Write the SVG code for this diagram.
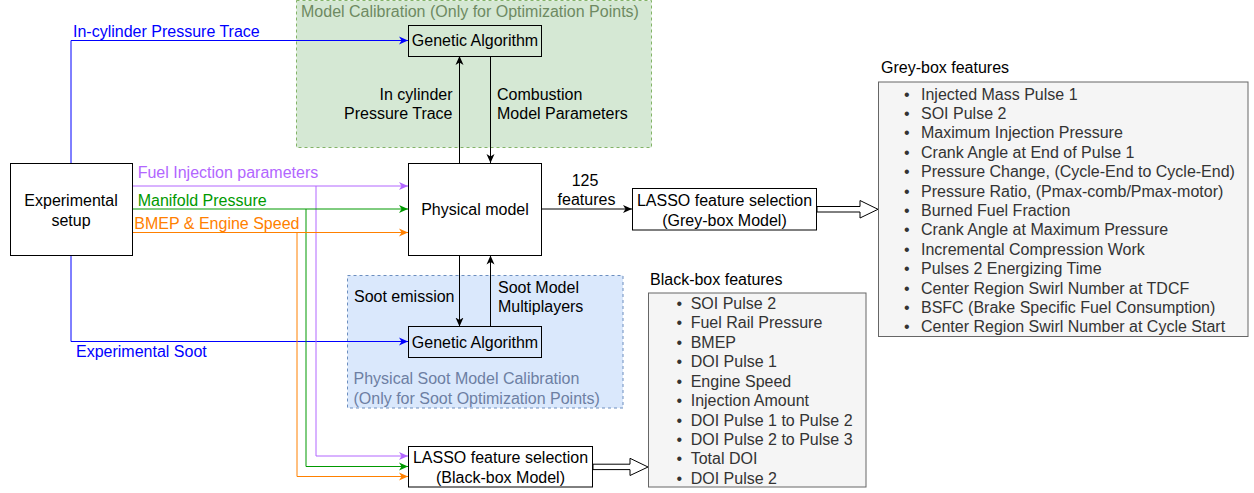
<svg xmlns="http://www.w3.org/2000/svg" width="1254" height="493" viewBox="0 0 1254 493">
<defs>
<style>
text{font-family:"Liberation Sans",Arial,sans-serif;font-size:16px;fill:#000}
.c{text-anchor:middle}
.e{text-anchor:end}
.box{fill:#fff;stroke:#000;stroke-width:1}
.gbox{fill:none;stroke:#000;stroke-width:1}
.list{fill:#f5f5f5;stroke:#666;stroke-width:1}
.li{fill:#333}
.ln{fill:none;stroke-width:1}
.k{stroke:#000}.b{stroke:#0000ff}.p{stroke:#b266ff}.g{stroke:#009900}.o{stroke:#ff8000}
.hollow{fill:#fff;stroke:#000;stroke-width:1}
</style>
<marker id="ak" markerUnits="userSpaceOnUse" markerWidth="10" markerHeight="10" refX="9" refY="4.5" orient="auto"><path d="M0,0.5 L9,4.5 L0,8.5 L2.5,4.5 Z" fill="#000"/></marker>
<marker id="ab" markerUnits="userSpaceOnUse" markerWidth="10" markerHeight="10" refX="9" refY="4.5" orient="auto"><path d="M0,0.5 L9,4.5 L0,8.5 L2.5,4.5 Z" fill="#0000ff"/></marker>
<marker id="ap" markerUnits="userSpaceOnUse" markerWidth="10" markerHeight="10" refX="9" refY="4.5" orient="auto"><path d="M0,0.5 L9,4.5 L0,8.5 L2.5,4.5 Z" fill="#b266ff"/></marker>
<marker id="ag" markerUnits="userSpaceOnUse" markerWidth="10" markerHeight="10" refX="9" refY="4.5" orient="auto"><path d="M0,0.5 L9,4.5 L0,8.5 L2.5,4.5 Z" fill="#009900"/></marker>
<marker id="ao" markerUnits="userSpaceOnUse" markerWidth="10" markerHeight="10" refX="9" refY="4.5" orient="auto"><path d="M0,0.5 L9,4.5 L0,8.5 L2.5,4.5 Z" fill="#ff8000"/></marker>
</defs>
<rect width="1254" height="493" fill="#fff"/>

<g id="model-calibration-region">
<rect x="296.5" y="0.5" width="355" height="147" fill="#d5e8d4" stroke="#82b366" stroke-dasharray="3,3"/>
<text x="301" y="16.5" style="fill:#6e8a62">Model Calibration (Only for Optimization Points)</text>
</g>

<g id="soot-calibration-region">
<rect x="347.5" y="275.5" width="275.5" height="132.5" fill="#dae8fc" stroke="#6c8ebf" stroke-dasharray="3,3"/>
<text x="353.5" y="383.6" style="fill:#6d7fa3">Physical Soot Model Calibration</text>
<text x="353.5" y="403.6" style="fill:#6d7fa3">(Only for Soot Optimization Points)</text>
</g>

<g id="connectors">
<path class="ln b" d="M71,163 V40.5 H408" marker-end="url(#ab)"/>
<path class="ln b" d="M71,255.5 V341.5 H408" marker-end="url(#ab)"/>
<path class="ln p" d="M133,186 H408" marker-end="url(#ap)"/>
<path class="ln p" d="M316,186 V456 H408" marker-end="url(#ap)"/>
<path class="ln g" d="M133,209 H408" marker-end="url(#ag)"/>
<path class="ln g" d="M306,209 V466.5 H408" marker-end="url(#ag)"/>
<path class="ln o" d="M133,232.5 H408" marker-end="url(#ao)"/>
<path class="ln o" d="M297,232.5 V476.5 H408" marker-end="url(#ao)"/>
<path class="ln k" d="M459.5,163 V56" marker-end="url(#ak)"/>
<path class="ln k" d="M490.5,56 V163" marker-end="url(#ak)"/>
<path class="ln k" d="M459.5,255.5 V326.5" marker-end="url(#ak)"/>
<path class="ln k" d="M490.5,326.5 V255.5" marker-end="url(#ak)"/>
<path class="ln k" d="M541.5,209 H632" marker-end="url(#ak)"/>
<path class="hollow" d="M817,206.5 H860 V200.5 L878,209.3 L860,218 V212 H817 Z"/>
<path class="hollow" d="M593,464.2 H630 V458.3 L648,467 L630,475.5 V469.6 H593 Z"/>
<text x="73" y="36.5" style="fill:#0000ff">In-cylinder Pressure Trace</text>
<text x="76" y="357.3" style="fill:#0000ff">Experimental Soot</text>
<text x="137.7" y="178.3" style="fill:#b266ff">Fuel Injection parameters</text>
<text x="137.7" y="205.6" style="fill:#009900">Manifold Pressure</text>
<text x="134.3" y="229" style="fill:#ff8000">BMEP &amp; Engine Speed</text>
<text class="e" x="452.5" y="99.6">In cylinder</text>
<text class="e" x="452.5" y="118.6">Pressure Trace</text>
<text x="497" y="99.6">Combustion</text>
<text x="497" y="118.6">Model Parameters</text>
<text class="e" x="454.5" y="302.3">Soot emission</text>
<text x="498" y="293.3">Soot Model</text>
<text x="498" y="312.3">Multiplayers</text>
<text class="c" x="585" y="185.6">125</text>
<text class="c" x="586.5" y="205">features</text>
</g>

<g id="experimental-setup">
<rect class="box" x="10.5" y="163.5" width="122" height="92"/>
<text class="c" x="71" y="205.6">Experimental</text>
<text class="c" x="71" y="225.6">setup</text>
</g>

<g id="genetic-algorithm-top">
<rect class="gbox" x="408.5" y="25.5" width="133" height="31"/>
<text class="c" x="475" y="46.3">Genetic Algorithm</text>
</g>

<g id="physical-model">
<rect class="box" x="408.5" y="163.5" width="133" height="92"/>
<text class="c" x="475" y="214.6">Physical model</text>
</g>

<g id="genetic-algorithm-bottom">
<rect class="gbox" x="408.5" y="326.5" width="133" height="31"/>
<text class="c" x="475" y="348">Genetic Algorithm</text>
</g>

<g id="lasso-grey-box">
<rect class="box" x="632.5" y="188.5" width="184" height="41.5"/>
<text class="c" x="724.5" y="206.3">LASSO feature selection</text>
<text class="c" x="724.5" y="225.6">(Grey-box Model)</text>
</g>

<g id="lasso-black-box">
<rect class="box" x="408.5" y="446.5" width="184" height="40.5"/>
<text class="c" x="500.5" y="463">LASSO feature selection</text>
<text class="c" x="500.5" y="482.6">(Black-box Model)</text>
</g>

<g id="grey-box-features">
<text x="881" y="72.6">Grey-box features</text>
<rect class="list" x="878.5" y="82" width="369.5" height="254.5"/>
<text x="904" y="99.6" class="li">•</text><text x="921" y="99.6" class="li">Injected Mass Pulse 1</text>
<text x="904" y="119" class="li">•</text><text x="921" y="119" class="li">SOI Pulse 2</text>
<text x="904" y="138.4" class="li">•</text><text x="921" y="138.4" class="li">Maximum Injection Pressure</text>
<text x="904" y="157.8" class="li">•</text><text x="921" y="157.8" class="li">Crank Angle at End of Pulse 1</text>
<text x="904" y="177.2" class="li">•</text><text x="921" y="177.2" class="li">Pressure Change, (Cycle-End to Cycle-End)</text>
<text x="904" y="196.6" class="li">•</text><text x="921" y="196.6" class="li">Pressure Ratio, (Pmax-comb/Pmax-motor)</text>
<text x="904" y="215.9" class="li">•</text><text x="921" y="215.9" class="li">Burned Fuel Fraction</text>
<text x="904" y="235.3" class="li">•</text><text x="921" y="235.3" class="li">Crank Angle at Maximum Pressure</text>
<text x="904" y="254.7" class="li">•</text><text x="921" y="254.7" class="li">Incremental Compression Work</text>
<text x="904" y="274.1" class="li">•</text><text x="921" y="274.1" class="li">Pulses 2 Energizing Time</text>
<text x="904" y="293.5" class="li">•</text><text x="921" y="293.5" class="li">Center Region Swirl Number at TDCF</text>
<text x="904" y="312.9" class="li">•</text><text x="921" y="312.9" class="li">BSFC (Brake Specific Fuel Consumption)</text>
<text x="904" y="332.3" class="li">•</text><text x="921" y="332.3" class="li">Center Region Swirl Number at Cycle Start</text>
</g>

<g id="black-box-features">
<text x="650" y="285">Black-box features</text>
<rect class="list" x="648.5" y="293" width="217.5" height="194"/>
<text x="676.5" y="308.9" class="li">•</text><text x="690.7" y="308.9" class="li">SOI Pulse 2</text>
<text x="676.5" y="328.3" class="li">•</text><text x="690.7" y="328.3" class="li">Fuel Rail Pressure</text>
<text x="676.5" y="347.8" class="li">•</text><text x="690.7" y="347.8" class="li">BMEP</text>
<text x="676.5" y="367.2" class="li">•</text><text x="690.7" y="367.2" class="li">DOI Pulse 1</text>
<text x="676.5" y="386.7" class="li">•</text><text x="690.7" y="386.7" class="li">Engine Speed</text>
<text x="676.5" y="406.1" class="li">•</text><text x="690.7" y="406.1" class="li">Injection Amount</text>
<text x="676.5" y="425.5" class="li">•</text><text x="690.7" y="425.5" class="li">DOI Pulse 1 to Pulse 2</text>
<text x="676.5" y="445" class="li">•</text><text x="690.7" y="445" class="li">DOI Pulse 2 to Pulse 3</text>
<text x="676.5" y="464.4" class="li">•</text><text x="690.7" y="464.4" class="li">Total DOI</text>
<text x="676.5" y="483.9" class="li">•</text><text x="690.7" y="483.9" class="li">DOI Pulse 2</text>
</g>
</svg>
